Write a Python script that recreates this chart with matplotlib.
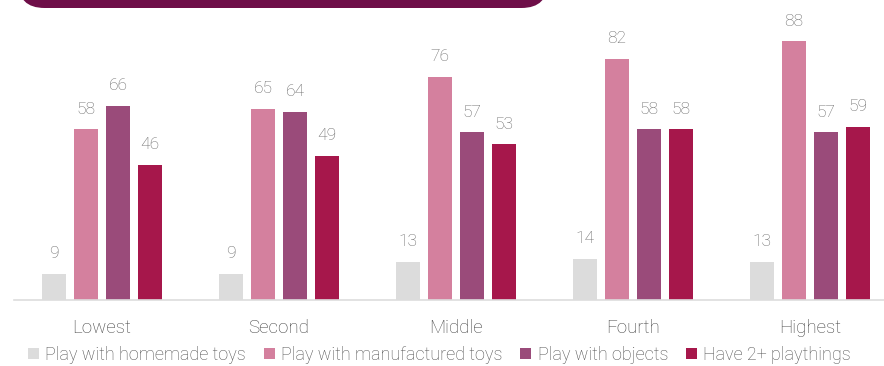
import matplotlib
matplotlib.use("Agg")
import matplotlib.pyplot as plt
from matplotlib.patches import FancyBboxPatch, Patch
import numpy as np

plt.rcParams['font.family'] = ['Roboto', 'DejaVu Sans']
plt.rcParams['font.weight'] = 'light'

categories = ["Lowest", "Second", "Middle", "Fourth", "Highest"]
series_names = ["Play with homemade toys", "Play with manufactured toys",
                "Play with objects", "Have 2+ playthings"]
homemade = [9, 9, 13, 14, 13]
manufactured = [58, 65, 76, 82, 88]
objects = [66, 64, 57, 58, 57]
two_plus = [46, 49, 53, 58, 59]
series = [homemade, manufactured, objects, two_plus]
colors = ["#DCDCDC", "#D4809E", "#9A4B7A", "#A6174B"]

W, H = 884, 366
fig = plt.figure(figsize=(W / 100, H / 100), dpi=100)

# axes placed in pixel terms: baseline at y=300, left edge at x=14
ax_left, ax_right = 14, 884
ax_bottom, ax_top = 300, 6
ax = fig.add_axes([ax_left / W, (H - ax_bottom) / H,
                   (ax_right - ax_left) / W, (ax_bottom - ax_top) / H])

group_px = 177.0
x0_px = 102.0
ax.set_xlim((ax_left - x0_px) / group_px, (ax_right - x0_px) / group_px)
ax.set_ylim(0, 100)

x = np.arange(len(categories))
bar_w = 24 / group_px
step = 32 / group_px
offsets = (np.arange(4) - 1.5) * step

for vals, off, col in zip(series, offsets, colors):
    bars = ax.bar(x + off, vals, width=bar_w, color=col, zorder=2)
    for b, v in zip(bars, vals):
        ax.annotate(str(v), (b.get_x() + b.get_width() / 2, v),
                    xytext=(0, 9), textcoords="offset points",
                    ha="center", va="bottom", fontsize=12.5,
                    color="#6A6A6A", fontweight="light")

for s in ["top", "right", "left"]:
    ax.spines[s].set_visible(False)
ax.spines["bottom"].set_color("#DDDDDD")
ax.spines["bottom"].set_linewidth(1.2)
ax.set_yticks([])
ax.set_xticks(x)
ax.set_xticklabels(categories, fontsize=13.5, color="#444444", fontweight="light")
ax.tick_params(axis="x", length=0, pad=14)

handles = [Patch(facecolor=c, edgecolor="none") for c in colors]
fig.legend(handles, series_names, loc="center", ncol=4, frameon=False,
           bbox_to_anchor=(0.497, 11 / H),
           prop={"size": 13, "weight": "light"},
           handlelength=0.6, handleheight=0.6, handletextpad=0.35,
           columnspacing=1.0, labelcolor="#505050", borderaxespad=0)

# dark header band at the top
banner = FancyBboxPatch((18 / W, (H - 8) / H), 530 / W, 38 / H,
                        boxstyle="round,pad=0,rounding_size=0.03",
                        transform=fig.transFigure, facecolor="#6E0E48",
                        edgecolor="none", mutation_aspect=W / H)
fig.patches.append(banner)

fig.savefig("out.png", dpi=100)
